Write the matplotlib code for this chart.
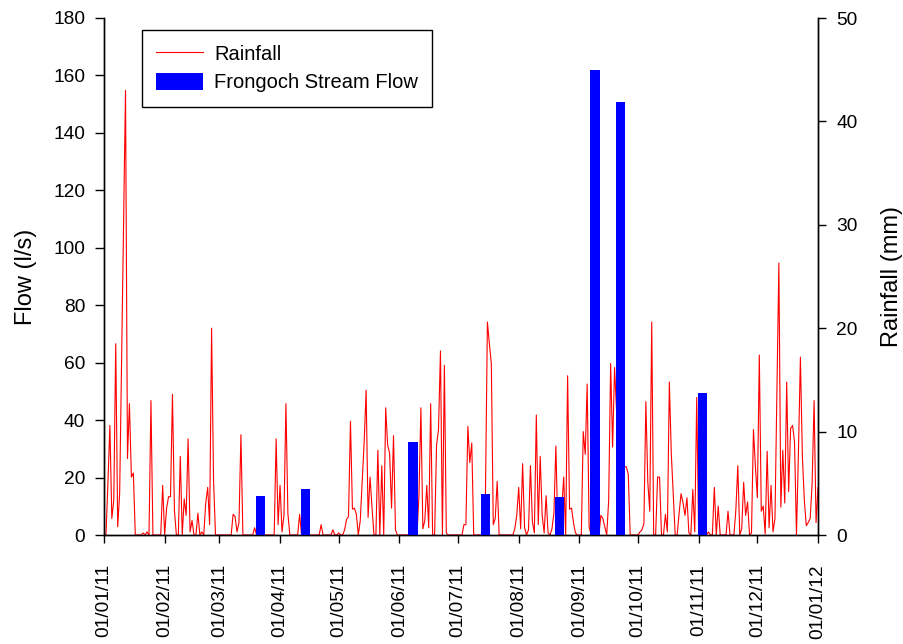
import numpy as np
import matplotlib
matplotlib.use("Agg")
import matplotlib.pyplot as plt
from matplotlib.lines import Line2D
from matplotlib.patches import Patch

plt.rcParams['font.family'] = ['Liberation Sans', 'DejaVu Sans']

# Daily rainfall (mm), 2011, month by month
rain_jan = [0, 0, 5, 10.6, 1.6, 3.4, 18.5, 0.8, 4, 17, 30, 43, 7.4, 12.7, 5.6, 6,
            0, 0, 0, 0, 0.2, 0, 0.3, 0, 13, 0, 0, 0, 0, 0, 4.8]
rain_feb = [0, 2.6, 3.7, 3.7, 13.6, 2.4, 0, 0, 7.6, 0, 3.5, 1.9, 9.3, 0.3, 1.4, 0,
            0, 2.1, 0, 0.3, 0, 3.1, 4.6, 1, 20, 5.3, 0, 0]
rain_mar = [0, 0, 0, 0, 0, 0, 0, 2, 1.8, 0.3, 1.2, 9.7, 0, 0, 0, 0, 0, 0, 0.7, 0,
            0, 0, 0, 0, 0, 0, 0, 0, 0, 9.3, 1]
rain_apr = [4.8, 0.3, 1.9, 12.7, 2.1, 0, 0, 0, 0, 0, 2, 0, 0, 0, 0, 0, 0, 0, 0, 0,
            0, 1, 0, 0, 0, 0, 0, 0.5, 0, 0]
rain_may = [0.2, 0, 0, 0.5, 1.5, 1.8, 11, 2.5, 2.6, 2, 0, 1.4, 5.1, 9, 14, 1.7, 5.6,
            2.7, 0, 0, 8.2, 0, 6.7, 0, 12.3, 8.7, 7.9, 2.6, 9.6, 0.5, 0]
rain_jun = [0, 0, 0, 0, 0, 0, 0, 0, 0, 0, 3.8, 12.3, 0.6, 1.4, 4.8, 0.7, 12.7, 0, 0,
            8.7, 10.2, 17.8, 0, 16.4, 0.2, 0, 0, 0, 0, 0]
rain_jul = [0, 0, 0, 1, 1, 10.5, 7, 8.9, 0, 0, 0, 0, 0, 0, 3.9, 20.6, 18.5, 16.6, 1,
            1.6, 5.2, 0, 0, 0, 0, 0, 0, 0, 0, 0.6, 1.9]
rain_aug = [4.6, 0.6, 6.9, 0.7, 0, 0.5, 6.7, 1.3, 0.2, 11.6, 1, 7.6, 1.9, 0.2, 3.8,
            0.2, 0, 0.6, 2.1, 8.6, 0.5, 0.5, 2.5, 5.6, 0, 15.4, 2.5, 2.6, 1.2, 0.2, 0]
rain_sep = [0, 0, 10, 7.8, 14.6, 0.8, 0, 0, 0, 0, 0, 1.9, 1.6, 0.8, 0, 3.4, 16.6,
            8.5, 16.2, 12, 8, 7, 6.8, 6.6, 6.6, 5.9, 0, 0, 0, 0]
rain_oct = [0, 0.3, 0.5, 1.1, 12.9, 5.1, 2.3, 20.6, 0, 0, 5.6, 5.6, 0, 0, 2, 0.3,
            14.8, 7.9, 4, 0, 0, 2.1, 4, 3.1, 1.9, 3.6, 0.2, 0, 4.4, 0.3, 13.3]
rain_nov = [0, 0, 0, 0, 0, 0.3, 0, 0, 4.6, 0, 2.8, 0, 0, 0, 0, 2.3, 0, 0, 0, 2.4,
            6.7, 0, 0.6, 5.1, 1.9, 3.2, 0, 0.2, 10.2, 6.6]
rain_dec = [3.6, 17.4, 2.3, 2.8, 0.1, 8.1, 0.7, 4.8, 0.3, 1.6, 14, 26.3, 2.7, 8.2,
            3.1, 14.8, 4.2, 10.3, 10.6, 9, 0, 8, 17.2, 7.7, 3.4, 0.9, 1.2, 1.6, 5,
            13, 1.2]
rain_jan12 = [4.6]

# Frongoch stream flow spot measurements (l/s)
flow_dates = ['2011-03-22', '2011-04-14', '2011-06-08', '2011-07-15',
              '2011-08-22', '2011-09-09', '2011-09-22', '2011-11-03']
flow_vals = [13.7, 16.1, 32.3, 14.2, 13.3, 161.9, 150.9, 49.3]

tick_labels = ['01/01/11', '01/02/11', '01/03/11', '01/04/11', '01/05/11',
               '01/06/11', '01/07/11', '01/08/11', '01/09/11', '01/10/11',
               '01/11/11', '01/12/11', '01/01/12']

rain = (rain_jan + rain_feb + rain_mar + rain_apr + rain_may + rain_jun +
        rain_jul + rain_aug + rain_sep + rain_oct + rain_nov + rain_dec + rain_jan12)
start = np.datetime64('2011-01-01')
rain_days = np.arange(len(rain))
flow_days = (np.array(flow_dates, dtype='datetime64[D]') - start).astype(int)
tick_dates = ['2011-%02d-01' % m for m in range(1, 13)] + ['2012-01-01']
tick_days = (np.array(tick_dates, dtype='datetime64[D]') - start).astype(int)

fig = plt.figure(figsize=(9.04, 6.44), dpi=100)
ax = fig.add_axes([104/904, 109/644, 714/904, 517/644])
ax2 = ax.twinx()

ax2.plot(rain_days, rain, color='#ff0000', lw=0.8)
ax.bar(flow_days, flow_vals, width=4.7, color='#0000ff', zorder=3)
ax.set_zorder(ax2.get_zorder() + 1)
ax.patch.set_visible(False)

ax.set_xlim(0, 365)
ax.set_ylim(0, 180)
ax2.set_ylim(0, 50)
ax.set_yticks(np.arange(0, 181, 20))
ax2.set_yticks(np.arange(0, 51, 10))
ax.set_xticks(tick_days)
ax.set_xticklabels(tick_labels, rotation=90)

fs = 13.8
for a in (ax, ax2):
    a.spines['top'].set_visible(False)
    for s in a.spines.values():
        s.set_linewidth(1.0)
ax.tick_params(axis='y', direction='out', length=6.5, width=1, pad=7, labelsize=fs)
ax.tick_params(axis='x', direction='out', length=6, width=1, pad=15, labelsize=fs)
ax2.tick_params(axis='y', direction='out', length=6, width=1, pad=7, labelsize=fs)

ax.set_ylabel('Flow (l/s)', fontsize=17, labelpad=12)
ax2.set_ylabel('Rainfall (mm)', fontsize=17, labelpad=17)

handles = [Line2D([], [], color='#ff0000', lw=0.8), Patch(facecolor='#0000ff')]
leg = fig.legend(handles, ['Rainfall', 'Frongoch Stream Flow'],
                 loc='upper left', bbox_to_anchor=(142/904, 1 - 30/644),
                 fontsize=14.5, frameon=True, fancybox=False, framealpha=1,
                 edgecolor='black', handlelength=2.3, handleheight=0.95,
                 handletextpad=0.55, borderpad=0.72, labelspacing=0.42,
                 borderaxespad=0)
leg.get_frame().set_linewidth(1.0)

fig.savefig('out.png', dpi=100)
